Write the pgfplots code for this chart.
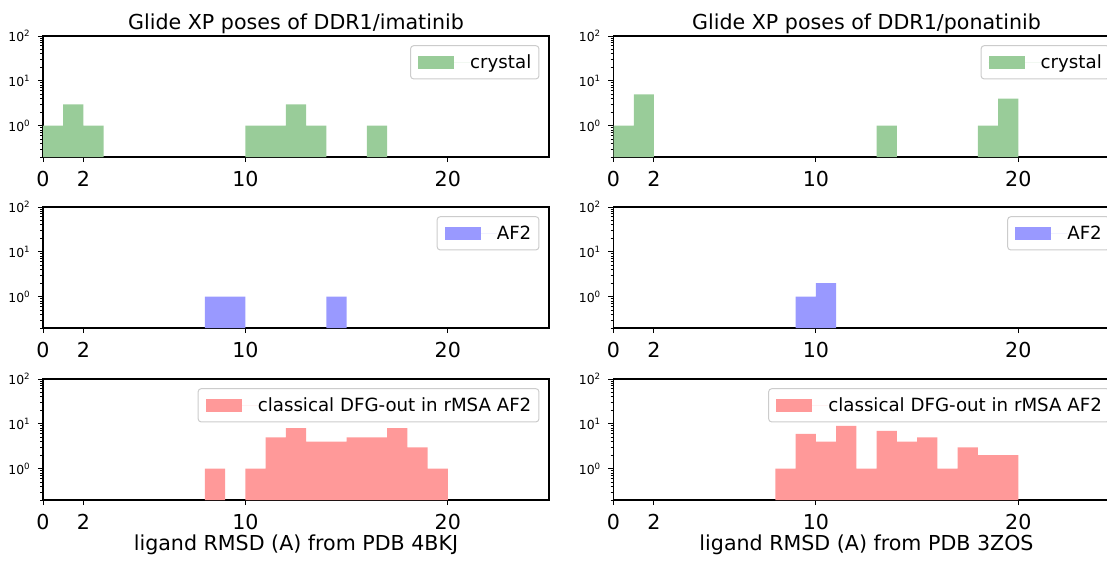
\documentclass[border=0pt]{standalone}
\usepackage{pgfplots}
\pgfplotsset{compat=1.18}
\usepackage{fontspec}
\setmainfont{DejaVu Sans}
\definecolor{cg}{RGB}{153,204,153}
\definecolor{cb}{RGB}{153,153,255}
\definecolor{cr}{RGB}{255,153,153}
\pgfplotsset{
  every axis/.append style={
    scale only axis, width=253pt, height=60.5pt,
    xmin=0, xmax=25, ymin=0.2, ymax=100,
    xtick={0,2,10,20}, xticklabels={0,2,10,20},
    ytick={1,10,100},
    yticklabels={10\textsuperscript{0},10\textsuperscript{1},10\textsuperscript{2}},
    minor ytick={0.2,0.3,0.4,0.5,0.6,0.7,0.8,0.9,2,3,4,5,6,7,8,9,20,30,40,50,60,70,80,90},
    tick align=outside, tick pos=left,
    major tick length=2.6pt, minor tick length=1.5pt,
    axis line style={line width=0.6pt},
    every tick/.style={black, line width=0.5pt},
    xticklabel style={font=\fontsize{10.3}{12}\selectfont, anchor=base, yshift=-12.2pt},
    yticklabel style={font=\fontsize{6.2}{7}\selectfont},
    title style={font=\fontsize{10.3}{12}\selectfont, at={(0.5,1)}, anchor=base, yshift=-2.5pt},
    xlabel style={font=\fontsize{10.3}{12}\selectfont, at={(0.5,0)}, anchor=base, yshift=-25pt},
    legend style={at={(1,1)}, anchor=north east, xshift=-4.8pt, yshift=-4.6pt,
      draw=black!20, line width=0.5pt, rounded corners=1.5pt, fill=white,
      font=\fontsize{9.1}{10}\selectfont, inner xsep=3.8pt, inner ysep=3.8pt,
      nodes={inner sep=0pt, text height=7.4pt, text depth=1.6pt}},
    legend cell align=left,
  },
  mybar/.style={ybar, bar width=1, bar shift=0pt, draw=none, fill=#1,
    legend image code/.code={\fill[#1, sharp corners] (0pt,-3.2pt) rectangle (18pt,3.2pt);
      \path (0pt,0pt) -- (26pt,0pt);}},
}
\begin{document}
\begin{tikzpicture}[trim left=0pt, trim right=553.5pt]
\path (0pt,0pt) rectangle (553.5pt,-278pt);
% ---------- left column: imatinib ----------
\begin{semilogyaxis}[log origin y=infty, at={(21.5pt,-18pt)}, anchor=north west,
  title={Glide XP poses of DDR1/imatinib}]
\addplot[mybar=cg] coordinates {(0.5,1) (1.5,3) (2.5,1) (10.5,1) (11.5,1) (12.5,3) (13.5,1) (16.5,1)};
\addlegendentry{crystal}
\end{semilogyaxis}
\begin{semilogyaxis}[log origin y=infty, at={(21.5pt,-103.5pt)}, anchor=north west]
\addplot[mybar=cb] coordinates {(8.5,1) (9.5,1) (14.5,1)};
\addlegendentry{AF2}
\end{semilogyaxis}
\begin{semilogyaxis}[log origin y=infty, at={(21.5pt,-189.5pt)}, anchor=north west,
  xlabel={ligand RMSD (A) from PDB 4BKJ}]
\addplot[mybar=cr] coordinates {(8.5,1) (10.5,1) (11.5,5) (12.5,8) (13.5,4) (14.5,4) (15.5,5) (16.5,5) (17.5,8) (18.5,3) (19.5,1)};
\addlegendentry{classical DFG-out in rMSA AF2}
\end{semilogyaxis}
% ---------- right column: ponatinib ----------
\begin{semilogyaxis}[log origin y=infty, at={(306.75pt,-18pt)}, anchor=north west,
  title={Glide XP poses of DDR1/ponatinib}]
\addplot[mybar=cg] coordinates {(0.5,1) (1.5,5) (13.5,1) (18.5,1) (19.5,4)};
\addlegendentry{crystal}
\end{semilogyaxis}
\begin{semilogyaxis}[log origin y=infty, at={(306.75pt,-103.5pt)}, anchor=north west]
\addplot[mybar=cb] coordinates {(9.5,1) (10.5,2)};
\addlegendentry{AF2}
\end{semilogyaxis}
\begin{semilogyaxis}[log origin y=infty, at={(306.75pt,-189.5pt)}, anchor=north west,
  xlabel={ligand RMSD (A) from PDB 3ZOS}]
\addplot[mybar=cr] coordinates {(8.5,1) (9.5,6) (10.5,4) (11.5,9) (12.5,1) (13.5,7) (14.5,4) (15.5,5) (16.5,1) (17.5,3) (18.5,2) (19.5,2)};
\addlegendentry{classical DFG-out in rMSA AF2}
\end{semilogyaxis}
\end{tikzpicture}
\end{document}
